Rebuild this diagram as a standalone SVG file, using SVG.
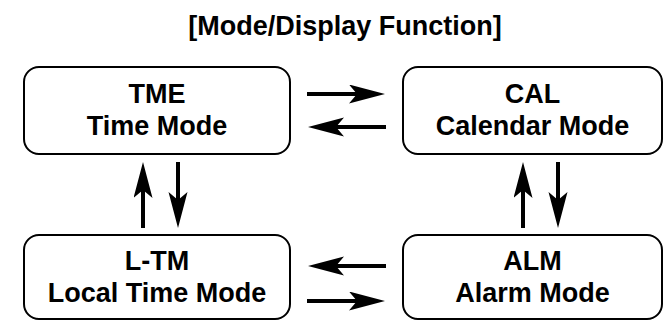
<svg xmlns="http://www.w3.org/2000/svg" width="664" height="321" viewBox="0 0 664 321">
<style>
.box{fill:#fff;stroke:#000;stroke-width:2}
.t{font-family:"Liberation Sans",Arial,Helvetica,sans-serif;font-weight:bold;font-size:27px;text-anchor:middle;fill:#000}
.c{stroke:#000;stroke-width:4;fill:none;marker-end:url(#ah)}
</style>
<defs>
<marker id="ah" markerUnits="userSpaceOnUse" markerWidth="38" markerHeight="20" refX="16" refY="9.5" orient="auto" viewBox="0 0 38 20">
<path d="M0,0 L36,9.5 L0,19 L8,9.5 Z" fill="#000"/>
</marker>
</defs>
<rect width="664" height="321" fill="#fff"/>
<text class="t" x="345" y="35">[Mode/Display Function]</text>
<g id="tme"><rect class="box" x="24" y="67" width="266" height="87" rx="15"/><text class="t" x="157" y="103">TME</text><text class="t" x="157" y="135">Time Mode</text></g>
<g id="cal"><rect class="box" x="403" y="67" width="259" height="87" rx="15"/><text class="t" x="532.5" y="103">CAL</text><text class="t" x="532.5" y="135">Calendar Mode</text></g>
<g id="ltm"><rect class="box" x="24" y="235" width="266" height="84" rx="15"/><text class="t" x="157" y="270">L-TM</text><text class="t" x="157" y="302">Local Time Mode</text></g>
<g id="alm"><rect class="box" x="403" y="235" width="259" height="84" rx="15"/><text class="t" x="532.5" y="270">ALM</text><text class="t" x="532.5" y="302">Alarm Mode</text></g>
<g id="connectors">
<line class="c" x1="307" y1="94" x2="365" y2="94"/>
<line class="c" x1="386" y1="127" x2="328" y2="127"/>
<line class="c" x1="386" y1="266" x2="328" y2="266"/>
<line class="c" x1="307" y1="301" x2="365" y2="301"/>
<line class="c" x1="143" y1="228" x2="143" y2="182"/>
<line class="c" x1="178" y1="162" x2="178" y2="208"/>
<line class="c" x1="523" y1="228" x2="523" y2="182"/>
<line class="c" x1="558" y1="162" x2="558" y2="208"/>
</g>
</svg>
